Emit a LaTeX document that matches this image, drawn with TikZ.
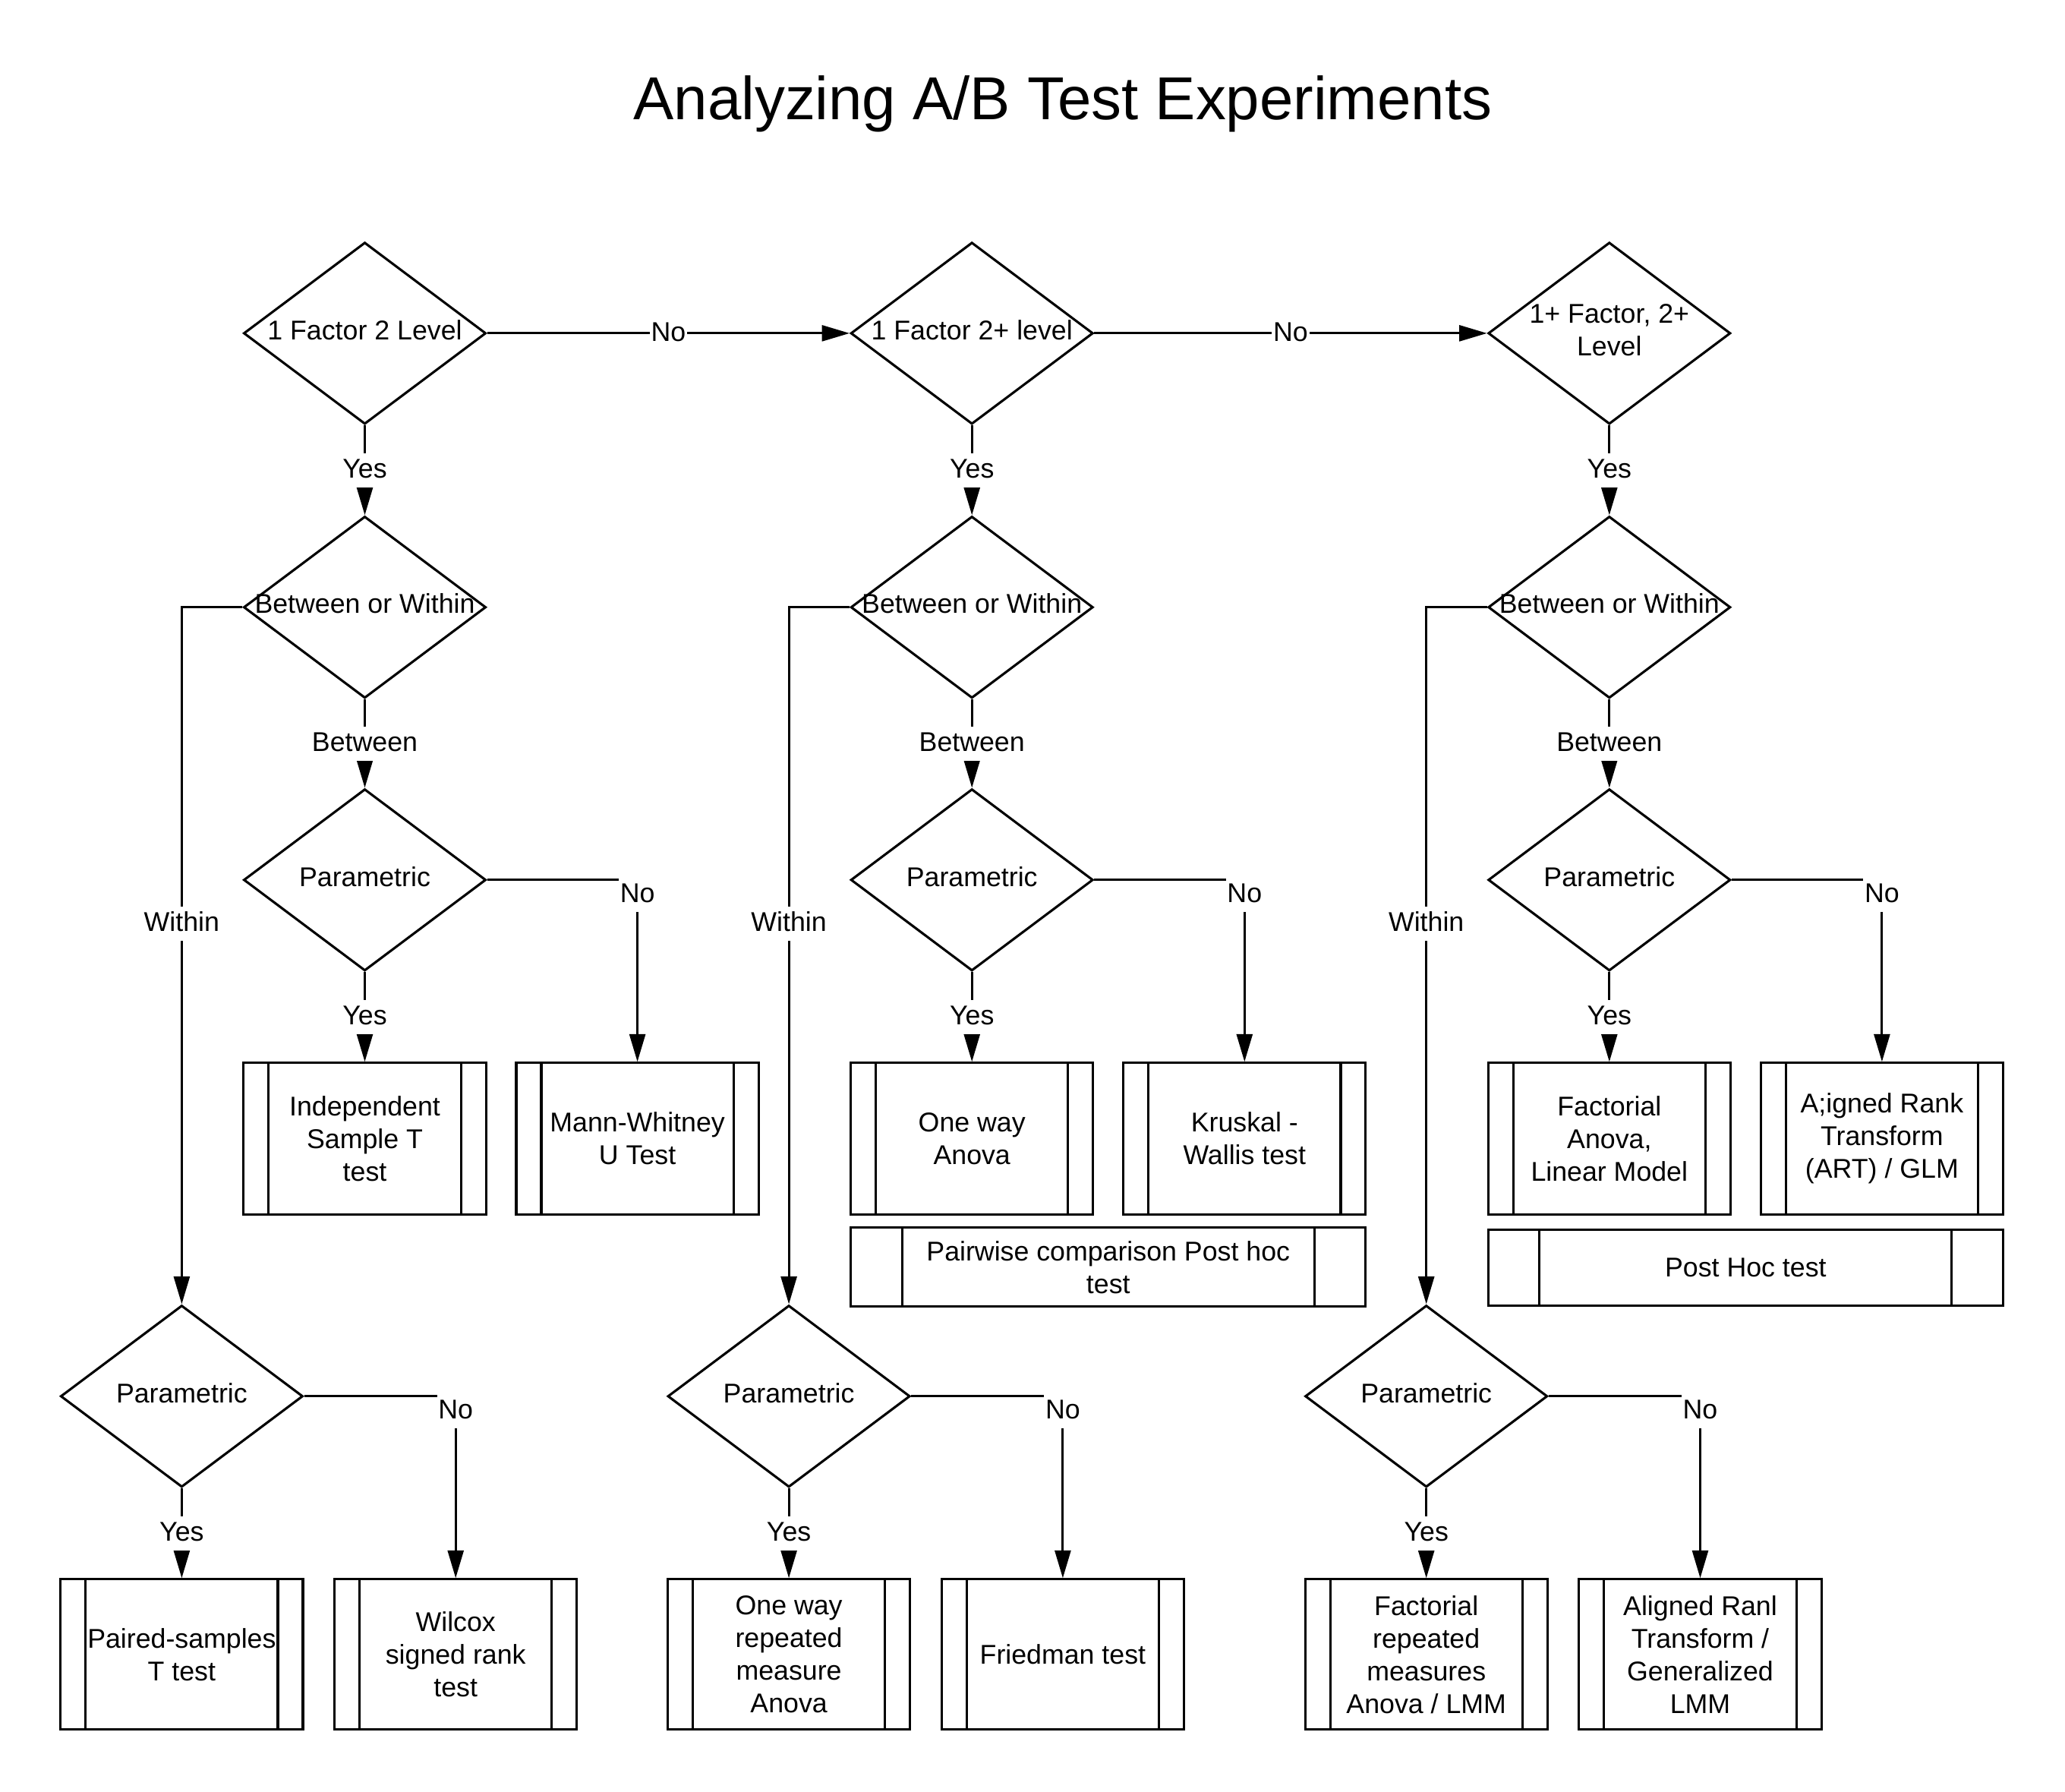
\documentclass[tikz,border=0pt]{standalone}
\usepackage{fontspec}
\setmainfont{Liberation Sans}
\usetikzlibrary{arrows.meta,shapes.geometric}

\begin{document}
\begin{tikzpicture}[x=0.5pt, y=-0.5pt, line width=0.9pt,
  every node/.style={font=\fontsize{10.3}{12.4}\selectfont},
  decision/.style={diamond, draw, minimum width=92pt, minimum height=69pt, inner sep=0pt,
    label={[align=center, yshift=1.3pt]center:#1}},
  subproc/.style={draw, rectangle, minimum width=92pt, minimum height=57.5pt, align=center, inner sep=0pt,
    path picture={\draw ([xshift=#1]path picture bounding box.north west) -- ([xshift=#1]path picture bounding box.south west)
      ([xshift=-#1]path picture bounding box.north east) -- ([xshift=-#1]path picture bounding box.south east);}},
  subproc/.default=9.5pt,
  lbl/.style={fill=white, inner xsep=0.5pt, inner ysep=1pt, text height=8.5pt, text depth=2.5pt},
  flow/.style={-{Triangle[length=10.5pt, width=6pt]}}]
\useasboundingbox (0,0) rectangle (1568,1360);

\node[font=\fontsize{23}{27}\selectfont] (title) at (807,79) {Analyzing A/B Test Experiments};

% Number of factors and levels
\node[decision={1 Factor 2 Level}] (lvl1) at (277,253) {};
\node[decision={1 Factor 2+ level}] (lvl2) at (738,253) {};
\node[decision={1+ Factor, 2+\\Level}] (lvl3) at (1222,253) {};

\foreach \c/\x/\w in {1/277/138, 2/738/599, 3/1222/1083} {
  \node[decision={Between or Within}] (bw\c) at (\x,461) {};
  \node[decision=Parametric] (bpar\c) at (\x,668) {};
  \node[decision=Parametric] (wpar\c) at (\w,1060) {};
}

% Between subjects
\node[subproc] (byes1) at (277,864.5) {Independent\\Sample T\\test};
\node[subproc] (bno1) at (484,864.5) {Mann-Whitney\\U Test};
\node[subproc] (byes2) at (738,864.5) {One way\\Anova};
\node[subproc] (bno2) at (945,864.5) {Kruskal -\\Wallis test};
\node[subproc] (byes3) at (1222,864.5) {Factorial\\Anova,\\Linear Model};
\node[subproc] (bno3) at (1429,864.5) {A;igned Rank\\Transform\\(ART) / GLM};
\node[subproc=19.5pt, minimum width=195.5pt, minimum height=30pt] (post2) at (841.5,962) {Pairwise comparison Post hoc\\test};
\node[subproc=19.5pt, minimum width=195.5pt, minimum height=28.75pt] (post3) at (1325.5,962.5) {Post Hoc test};

% Within subjects
\node[subproc, minimum height=57pt] (wyes1) at (138,1256) {Paired-samples\\T test};
\node[subproc, minimum height=57pt] (wno1) at (346,1256) {Wilcox\\signed rank\\test};
\node[subproc, minimum height=57pt] (wyes2) at (599,1256) {One way\\repeated\\measure\\Anova};
\node[subproc, minimum height=57pt] (wno2) at (807,1256) {Friedman test};
\node[subproc, minimum height=57pt] (wyes3) at (1083,1256) {Factorial\\repeated\\measures\\Anova / LMM};
\node[subproc, minimum height=57pt] (wno3) at (1291,1256) {Aligned Ranl\\Transform /\\Generalized\\LMM};

\draw[flow] (lvl1.east) -- node[lbl] {No} (lvl2.west);
\draw[flow] (lvl2.east) -- node[lbl] {No} (lvl3.west);
\foreach \c in {1,2,3} {
  \draw[flow] (lvl\c.south) -- node[lbl] {Yes} (bw\c.north);
  \draw[flow] (bw\c.south) -- node[lbl] {Between} (bpar\c.north);
  \draw[flow] (bw\c.west) -| node[lbl, pos=0.727] {Within} (wpar\c.north);
  \draw[flow] (bpar\c.south) -- node[lbl] {Yes} (byes\c.north);
  \draw[flow] (bpar\c.east) -| node[lbl, pos=0.541] {No} (bno\c.north);
  \draw[flow] (wpar\c.south) -- node[lbl] {Yes} (wyes\c.north);
  \draw[flow] (wpar\c.east) -| node[lbl, pos=0.541] {No} (wno\c.north);
}
\end{tikzpicture}
\end{document}
